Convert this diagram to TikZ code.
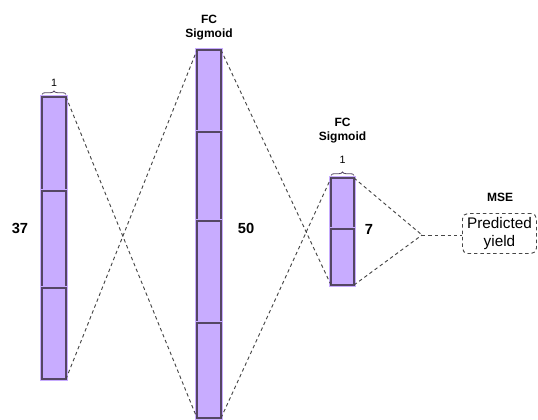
\documentclass[tikz,border=0pt]{standalone}
\usepackage{fontspec}
\setmainfont{Liberation Sans}
\usetikzlibrary{decorations.pathreplacing}
\definecolor{segfill}{RGB}{200,172,255}
\definecolor{segedge}{RGB}{85,70,100}
\definecolor{linegray}{RGB}{70,70,70}
\tikzset{seg/.style={draw=segedge, fill=segfill, line width=0.8pt, inner sep=0pt, outer sep=0pt,
    minimum width=18pt, anchor=north, preaction={draw=segfill, line width=2.4pt}}}
\tikzset{link/.style={draw=linegray, line width=0.7pt, dash pattern=on 2.6pt off 2.2pt}}
\tikzset{lbl/.style={font=\fontsize{11}{13}\selectfont\bfseries}}
\tikzset{hdr/.style={font=\fontsize{9}{10.5}\selectfont\bfseries, align=center}}
\tikzset{wbrace/.style={decorate, decoration={brace, amplitude=2.5pt}, draw=segedge, line width=0.6pt}}

\begin{document}
\begin{tikzpicture}[x=0.75pt,y=-0.75pt]
  \useasboundingbox (0,0) rectangle (538,420);

  % input layer
  \node [seg, minimum height=70.5pt]  (a1) at (54,97) {};
  \node [seg, minimum height=72.75pt] (a2) at (54,191) {};
  \node [seg, minimum height=68.25pt] (a3) at (54,288) {};
  \draw [wbrace] ([yshift=2pt]a1.north west) -- ([yshift=2pt]a1.north east);
  \node [font=\fontsize{8}{9}\selectfont] (n1) at (54,83) {1};
  \node [lbl] (s37) at (20,228) {37};

  % hidden layer 1
  \node [seg, minimum height=61.5pt]  (b1) at (209,50) {};
  \node [seg, minimum height=66.75pt] (b2) at (209,132) {};
  \node [seg, minimum height=76.5pt]  (b3) at (209,221) {};
  \node [seg, minimum height=71.25pt] (b4) at (209,323) {};
  \node [hdr] (h1) at (209,28) {FC\\Sigmoid};
  \node [lbl] (s50) at (246,228) {50};

  % hidden layer 2
  \node [seg, minimum height=38.25pt, minimum width=17.25pt] (c1) at (342.5,178) {};
  \node [seg, minimum height=42pt, minimum width=17.25pt]    (c2) at (342.5,229) {};
  \draw [wbrace] ([yshift=2pt]c1.north west) -- ([yshift=2pt]c1.north east);
  \node [font=\fontsize{8}{9}\selectfont] (n3) at (342.5,160) {1};
  \node [hdr] (h2) at (342.5,131) {FC\\Sigmoid};
  \node [lbl] (s7) at (369,229) {7};

  % output
  \coordinate (m) at (422,235);
  \node [draw=linegray, line width=0.7pt, dash pattern=on 2.6pt off 2.2pt, rounded corners=4pt,
    minimum width=55.5pt, minimum height=30pt, inner sep=1pt, align=center,
    font=\fontsize{11.5}{13}\selectfont, anchor=west] (out) at (462,233.5) {Predicted\\yield};
  \node [hdr] (mse) at (500,197) {MSE};

  % connections
  \draw [link] (a1.north east) -- (b4.south west);
  \draw [link] (a3.south east) -- (b1.north west);
  \draw [link] (b1.north east) -- (c2.south west);
  \draw [link] (b4.south east) -- (c1.north west);
  \draw [link] (c1.north east) -- (m);
  \draw [link] (c2.south east) -- (m);
  \draw [link] (m) -- (out.west |- m);
\end{tikzpicture}
\end{document}
